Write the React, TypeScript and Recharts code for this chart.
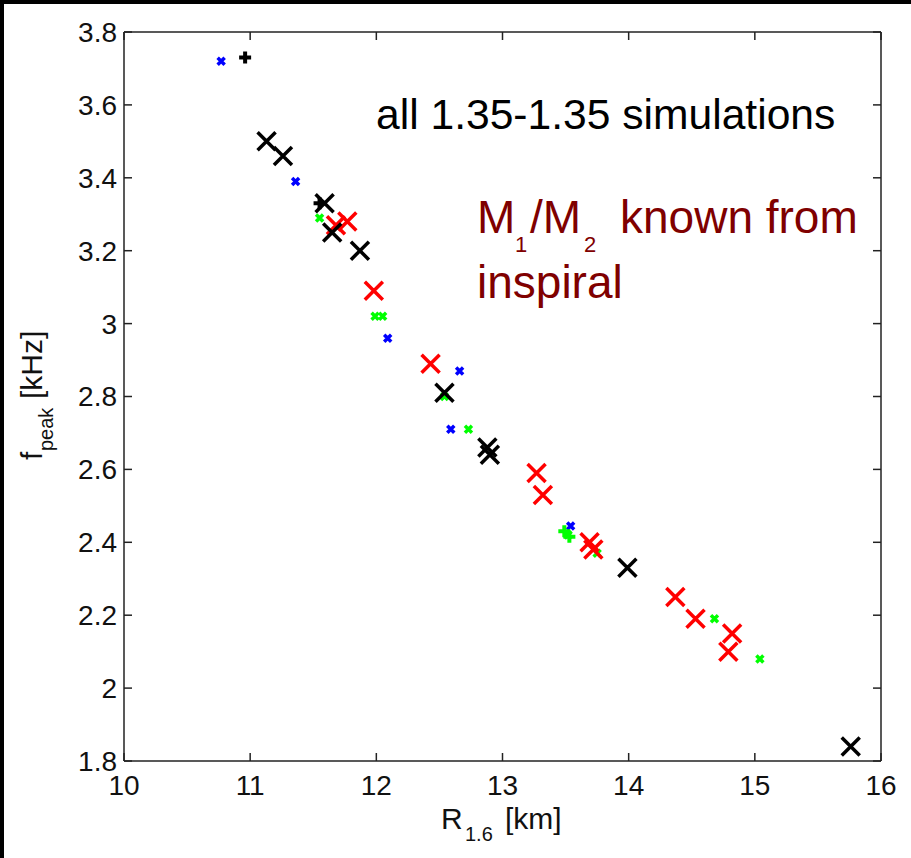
import React from "react";
import { ScatterChart, Scatter, XAxis, YAxis } from "recharts";

// R_1.6 [km], f_peak [kHz]
const xTicks = [10, 11, 12, 13, 14, 15, 16];
const yTicks = [1.8, 2, 2.2, 2.4, 2.6, 2.8, 3, 3.2, 3.4, 3.6, 3.8];

const blueSmall: [number, number][] = [
  [10.77, 3.72], [11.36, 3.39], [12.09, 2.96], [12.66, 2.87], [12.59, 2.71], [13.54, 2.445],
];
const greenSmall: [number, number][] = [
  [11.55, 3.29], [11.99, 3.02], [12.05, 3.02], [12.54, 2.80], [12.73, 2.71],
  [13.52, 2.42], [13.75, 2.37], [14.68, 2.19], [15.04, 2.08],
];
const redBig: [number, number][] = [
  [11.68, 3.27], [11.77, 3.28], [11.98, 3.09], [12.43, 2.89], [13.27, 2.59], [13.32, 2.53],
  [13.69, 2.40], [13.72, 2.38], [14.37, 2.25], [14.53, 2.19], [14.82, 2.15], [14.79, 2.10],
];
const blackBig: [number, number][] = [
  [11.13, 3.50], [11.26, 3.46], [11.59, 3.33], [11.65, 3.25], [11.87, 3.20],
  [12.54, 2.81], [12.88, 2.66], [12.90, 2.64], [13.99, 2.33], [15.76, 1.84],
];
const blackPlus: [number, number][] = [[10.96, 3.73], [11.55, 3.33]];
const greenPlus: [number, number][] = [[13.49, 2.43], [13.53, 2.415]];

const toRows = (pts: [number, number][]) => pts.map(([r, f]) => ({ r, f }));

const FONT = "'Liberation Sans', Arial, Helvetica, sans-serif";
const AXIS = "#222";

const cross = (half: number, color: string, w: number) =>
  // eslint-disable-next-line @typescript-eslint/no-explicit-any
  (p: any) => (
    <path
      d={`M${p.cx - half},${p.cy - half}L${p.cx + half},${p.cy + half}M${p.cx - half},${p.cy + half}L${p.cx + half},${p.cy - half}`}
      stroke={color}
      strokeWidth={w}
      fill="none"
    />
  );

const plus = (half: number, color: string, w: number) =>
  // eslint-disable-next-line @typescript-eslint/no-explicit-any
  (p: any) => (
    <path
      d={`M${p.cx - half},${p.cy}L${p.cx + half},${p.cy}M${p.cx},${p.cy - half}L${p.cx},${p.cy + half}`}
      stroke={color}
      strokeWidth={w}
      fill="none"
    />
  );

// tick-only axes: draw the inward tick marks, no labels
const NoLabel = () => <g />;

export default function App() {
  return (
    <div
      style={{
        position: "fixed",
        left: 0,
        top: 0,
        width: 911,
        height: 858,
        background: "#fff",
        overflow: "hidden",
        fontFamily: FONT,
      }}
    >
      <ScatterChart width={911} height={858} margin={{ top: 32, right: 30, left: 0, bottom: 0 }}>
        <XAxis
          dataKey="r"
          type="number"
          domain={[10, 16]}
          ticks={xTicks}
          allowDataOverflow
          height={97}
          tickLine={false}
          tickSize={0}
          tickMargin={14}
          axisLine={{ stroke: AXIS, strokeWidth: 1.5 }}
          tick={{ fontSize: 28, fill: "#111", fontFamily: FONT }}
        />
        <XAxis
          xAxisId="top"
          dataKey="r"
          type="number"
          orientation="top"
          mirror
          domain={[10, 16]}
          ticks={xTicks}
          allowDataOverflow
          height={20}
          tick={NoLabel}
          tickSize={8}
          tickLine={{ stroke: AXIS, strokeWidth: 1.5 }}
          axisLine={{ stroke: AXIS, strokeWidth: 1.5 }}
        />
        <XAxis
          xAxisId="bm"
          dataKey="r"
          type="number"
          orientation="bottom"
          mirror
          domain={[10, 16]}
          ticks={xTicks}
          allowDataOverflow
          height={20}
          tick={NoLabel}
          tickSize={8}
          tickLine={{ stroke: AXIS, strokeWidth: 1.5 }}
          axisLine={false}
        />
        <YAxis
          dataKey="f"
          type="number"
          domain={[1.8, 3.8]}
          ticks={yTicks}
          allowDataOverflow
          width={124}
          tickLine={false}
          tickSize={0}
          tickMargin={7}
          axisLine={{ stroke: AXIS, strokeWidth: 1.5 }}
          tick={{ fontSize: 28, fill: "#111", fontFamily: FONT }}
        />
        <YAxis
          yAxisId="lm"
          dataKey="f"
          type="number"
          orientation="left"
          mirror
          domain={[1.8, 3.8]}
          ticks={yTicks}
          allowDataOverflow
          width={20}
          tick={NoLabel}
          tickSize={8}
          tickLine={{ stroke: AXIS, strokeWidth: 1.5 }}
          axisLine={false}
        />
        <YAxis
          yAxisId="rm"
          dataKey="f"
          type="number"
          orientation="right"
          mirror
          domain={[1.8, 3.8]}
          ticks={yTicks}
          allowDataOverflow
          width={20}
          tick={NoLabel}
          tickSize={8}
          tickLine={{ stroke: AXIS, strokeWidth: 1.5 }}
          axisLine={{ stroke: AXIS, strokeWidth: 1.5 }}
        />
        <Scatter data={toRows(blueSmall)} shape={cross(3.5, "#0000ff", 3.5)} isAnimationActive={false} />
        <Scatter data={toRows(greenSmall)} shape={cross(3.5, "#00ff00", 3.5)} isAnimationActive={false} />
        <Scatter data={toRows(redBig)} shape={cross(9, "#ff0000", 3.5)} isAnimationActive={false} />
        <Scatter data={toRows(blackBig)} shape={cross(9, "#000000", 3.5)} isAnimationActive={false} />
        <Scatter data={toRows(blackPlus)} shape={plus(6, "#000000", 4)} isAnimationActive={false} />
        <Scatter data={toRows(greenPlus)} shape={plus(6, "#00ff00", 4)} isAnimationActive={false} />
      </ScatterChart>

      <svg
        width={911}
        height={858}
        style={{ position: "absolute", left: 0, top: 0, pointerEvents: "none" }}
        fontFamily={FONT}
      >
        <text x={376} y={129} fontSize={42.6} fill="#000">
          all 1.35-1.35 simulations
        </text>
        <text fontSize={46} fill="#7f0000">
          <tspan x={477} y={233}>M</tspan>
          <tspan x={515} y={252} fontSize={22}>1</tspan>
          <tspan x={530} y={233}>/M</tspan>
          <tspan x={584} y={252} fontSize={22}>2</tspan>
          <tspan x={620} y={233}>known from</tspan>
          <tspan x={477} y={298}>inspiral</tspan>
        </text>
        <text fontSize={30} fill="#111">
          <tspan x={441} y={829}>R</tspan>
          <tspan x={465} y={841} fontSize={20}>1.6</tspan>
          <tspan x={505} y={829}>[km]</tspan>
        </text>
        <text transform="translate(42,460) rotate(-90)" fontSize={30} fill="#111">
          <tspan x={0} y={0}>f</tspan>
          <tspan x={9} y={11} fontSize={20}>peak</tspan>
          <tspan x={61} y={0}>[kHz]</tspan>
        </text>
      </svg>

      <div style={{ position: "absolute", left: 0, top: 0, width: 911, height: 4, background: "#000" }} />
      <div style={{ position: "absolute", left: 0, top: 0, width: 4, height: 858, background: "#000" }} />
    </div>
  );
}
